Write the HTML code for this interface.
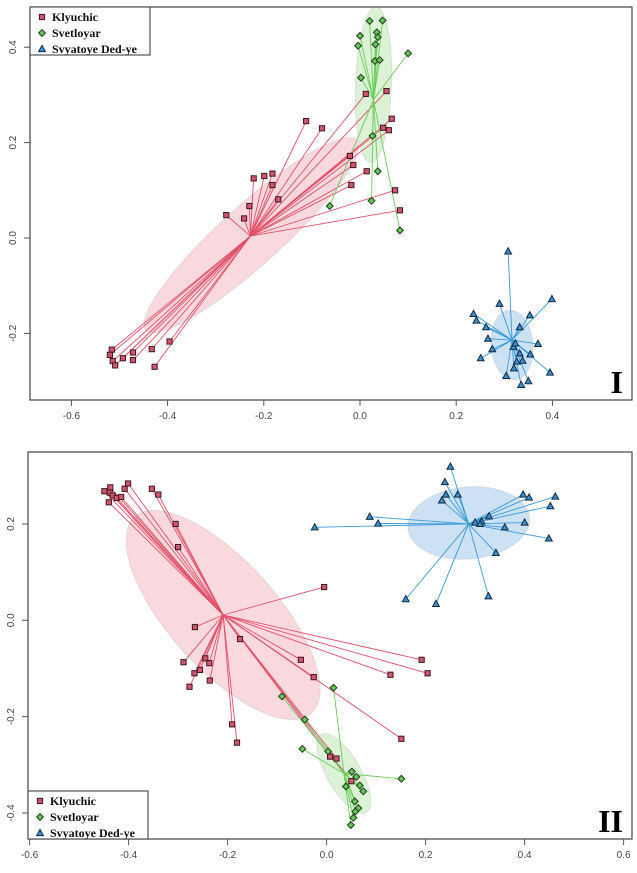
<!DOCTYPE html>
<html><head><meta charset="utf-8"><style>
body{margin:0;background:#fff;}
svg{display:block;font-family:"Liberation Sans",sans-serif;}
</style></head><body>
<svg id="chart" width="637" height="873" viewBox="0 0 637 873" xmlns="http://www.w3.org/2000/svg"></svg>
<script>
// ---- Panel I data ----
const p1KlyX=[0.012,0.055,0.066,0.048,0.06,-0.112,-0.079,-0.021,-0.014,0.014,-0.018,0.073,0.083,-0.221,-0.199,-0.182,-0.182,-0.17,-0.23,-0.278,-0.241,-0.516,-0.52,-0.514,-0.509,-0.493,-0.472,-0.472,-0.433,-0.396,-0.427];
const p1KlyY=[0.302,0.308,0.25,0.231,0.226,0.245,0.23,0.172,0.153,0.14,0.111,0.1,0.058,0.125,0.13,0.135,0.111,0.081,0.067,0.048,0.041,-0.234,-0.245,-0.258,-0.267,-0.252,-0.24,-0.256,-0.233,-0.217,-0.27];
const p1SveX=[0.02,0.047,0,0.035,0.037,-0.004,0.032,0.1,0.031,0.041,0.002,0.026,0.037,0.024,-0.063,0.083];
const p1SveY=[0.455,0.456,0.424,0.431,0.421,0.403,0.406,0.387,0.371,0.373,0.336,0.214,0.14,0.078,0.067,0.016];
const p1SvyX=[0.308,0.399,0.29,0.236,0.242,0.353,0.262,0.332,0.266,0.37,0.275,0.319,0.323,0.332,0.354,0.251,0.338,0.326,0.32,0.395,0.304,0.35,0.335];
const p1SvyY=[-0.028,-0.128,-0.138,-0.159,-0.173,-0.162,-0.187,-0.187,-0.211,-0.222,-0.233,-0.228,-0.221,-0.242,-0.244,-0.252,-0.257,-0.259,-0.273,-0.282,-0.289,-0.3,-0.308];
const p1Centroids=[[-0.228,0.004],[0.028,0.29],[0.316,-0.214]];
const p1XTicks=[-0.6,-0.4,-0.2,0.0,0.2,0.4];
const p1YTicks=[-0.2,0.0,0.2,0.4];
// ---- Panel II data ----
const p2KlyX=[-0.449,-0.437,-0.438,-0.432,-0.424,-0.415,-0.44,-0.408,-0.401,-0.353,-0.34,-0.305,-0.3,-0.005,-0.266,-0.175,-0.289,-0.245,-0.237,-0.256,-0.267,-0.236,-0.277,-0.052,-0.026,0.129,0.192,0.204,-0.191,-0.181,0.151,0.007,0.02,0.05];
const p2KlyY=[0.268,0.276,0.265,0.259,0.254,0.256,0.245,0.273,0.284,0.273,0.261,0.2,0.152,0.069,-0.014,-0.039,-0.087,-0.079,-0.089,-0.103,-0.11,-0.125,-0.138,-0.082,-0.118,-0.113,-0.082,-0.11,-0.216,-0.254,-0.246,-0.283,-0.287,-0.334];
const p2SveX=[0.014,-0.09,-0.044,-0.049,0.003,0.151,0.051,0.06,0.039,0.067,0.074,0.057,0.064,0.058,0.054,0.049];
const p2SveY=[-0.14,-0.158,-0.206,-0.267,-0.272,-0.329,-0.314,-0.325,-0.345,-0.343,-0.355,-0.376,-0.39,-0.397,-0.41,-0.425];
const p2SvyX=[0.25,0.239,0.241,0.265,0.233,0.397,0.409,0.462,0.452,0.087,0.104,-0.024,0.328,0.313,0.4,0.36,0.449,0.342,0.16,0.221,0.327,0.3,0.31];
const p2SvyY=[0.319,0.287,0.261,0.261,0.249,0.261,0.255,0.257,0.237,0.215,0.201,0.193,0.216,0.205,0.203,0.193,0.17,0.14,0.044,0.034,0.05,0.203,0.2];
const p2Centroids=[[-0.209,0.011],[0.035,-0.318],[0.287,0.2]];
const p2XTicks=[-0.6,-0.4,-0.2,0.0,0.2,0.4,0.6];
const p2YTicks=[-0.4,-0.2,0.0,0.2];

const NS="http://www.w3.org/2000/svg";
const svg=document.getElementById('chart');
function mk(tag,attrs,parent){const e=document.createElementNS(NS,tag);for(const k in attrs)e.setAttribute(k,attrs[k]);(parent||svg).appendChild(e);return e;}
const COL={k:{fill:'#d4546e',line:'#e0506a',ell:'rgba(238,140,155,0.33)'},s:{fill:'#66c45a',line:'#6ccc5a',ell:'rgba(150,215,135,0.33)'},v:{fill:'#3d8fcf',line:'#3a9ad8',ell:'rgba(120,175,225,0.38)'}};

function marker(g,kind,x,y){
  let e;
  if(kind==='k'){e=mk('rect',{x:x-2.6,y:y-2.6,width:5.2,height:5.2,fill:COL.k.fill,stroke:'#3a1a20','stroke-width':1},g);}
  else if(kind==='s'){e=mk('polygon',{points:`${x},${y-3.4} ${x+3.4},${y} ${x},${y+3.4} ${x-3.4},${y}`,fill:COL.s.fill,stroke:'#1f3d1a','stroke-width':1},g);}
  else {e=mk('polygon',{points:`${x},${y-3.6} ${x+3.4},${y+2.6} ${x-3.4},${y+2.6}`,fill:COL.v.fill,stroke:'#0f2a40','stroke-width':1},g);}
  
  
}

function panel(cfg){
  const g=mk('g',{});
  
  
  const sx=v=>cfg.x0+v*cfg.kx, sy=v=>cfg.y0-v*cfg.ky;
  cfg.ells.forEach((el,i)=>{
    const c=cfg.cent[i];const cx=sx(c[0])+el[0],cy=sy(c[1])+el[1];
    const e=mk('ellipse',{cx:cx,cy:cy,rx:el[2],ry:el[3],transform:`rotate(${el[4]} ${cx} ${cy})`,fill:COL[el[5]].ell,stroke:'rgba(170,170,170,0.35)','stroke-width':0.8},g);
    
    
  });
  cfg.series.forEach(s=>{
    const c=cfg.cent[s.ci];
    for(let i=0;i<s.x.length;i++){
      const l=mk('line',{x1:sx(c[0]),y1:sy(c[1]),x2:sx(s.x[i]),y2:sy(s.y[i]),stroke:COL[s.k].line,'stroke-width':0.9},g);
      
      
    }
  });
  cfg.series.forEach(s=>{for(let i=0;i<s.x.length;i++)marker(g,s.k,sx(s.x[i]),sy(s.y[i]));});
  const b=mk('rect',{x:cfg.box[0],y:cfg.box[1],width:cfg.box[2]-cfg.box[0],height:cfg.box[3]-cfg.box[1],fill:'none',stroke:'#444','stroke-width':1.2},g);
  
  
  cfg.xt.forEach(v=>{
    const x=sx(v);
    mk('line',{x1:x,y1:cfg.box[3],x2:x,y2:cfg.box[3]+6,stroke:'#555'},g);
    const t=mk('text',{x:x,y:cfg.box[3]+19,'font-size':10,fill:'#444','text-anchor':'middle'},g);
    t.textContent=v.toFixed(1);
    
    
  });
  cfg.yt.forEach(v=>{
    const y=sy(v);
    mk('line',{x1:cfg.box[0],y1:y,x2:cfg.box[0]-6,y2:y,stroke:'#555'},g);
    const t=mk('text',{x:cfg.box[0]-14,y:y,'font-size':10,fill:'#444','text-anchor':'middle',transform:`rotate(-90 ${cfg.box[0]-14} ${y})`},g);
    t.textContent=v.toFixed(1);
    
    
  });
  const [lx,ly]=cfg.leg;
  const lg=mk('g',{},g);
  
  
  mk('rect',{x:lx,y:ly,width:120,height:48,fill:'#fff',stroke:'#333','stroke-width':1},lg);
  const names=['Klyuchic','Svetloyar','Svyatoye Ded-ye'],ks=['k','s','v'];
  names.forEach((n,i)=>{
    marker(lg,ks[i],lx+12,ly+10+i*16);
    const t=mk('text',{x:lx+22,y:ly+14+i*16,'font-size':12,'font-weight':'bold','font-family':'"Liberation Serif",serif',fill:'#111'},lg);
    t.textContent=n;
    
    
  });
  const r=mk('text',{x:cfg.roman[0],y:cfg.roman[1],'font-size':32,'font-weight':'bold','font-family':'"Liberation Serif",serif',fill:'#000','text-anchor':'end'},g);
  r.textContent=cfg.rn;
  
  
}

panel({name:'panel-i',x0:360,kx:481,y0:238,ky:477,box:[30,7,632,400],xt:p1XTicks,yt:p1YTicks,leg:[30,7],roman:[623,393],rn:'I',
  cent:p1Centroids,
  ells:[[1,-1,142,30,-42,'k'],[0,-15,18,78,2,'s'],[0,5,21,35,-5,'v']],
  series:[{k:'k',x:p1KlyX,y:p1KlyY,ci:0},{k:'s',x:p1SveX,y:p1SveY,ci:1},{k:'v',x:p1SvyX,y:p1SvyY,ci:2}]});
panel({name:'panel-ii',x0:326.6,kx:495,y0:620.3,ky:481.7,box:[28,452,632,839],xt:p2XTicks,yt:p2YTicks,leg:[28,791],roman:[623,832],rn:'II',
  cent:p2Centroids,
  ells:[[0,0,132,54,48,'k'],[0,0,45,17,60,'s'],[0,-1,61,36,-5,'v']],
  series:[{k:'k',x:p2KlyX,y:p2KlyY,ci:0},{k:'s',x:p2SveX,y:p2SveY,ci:1},{k:'v',x:p2SvyX,y:p2SvyY,ci:2}]});
</script>
</body></html>
